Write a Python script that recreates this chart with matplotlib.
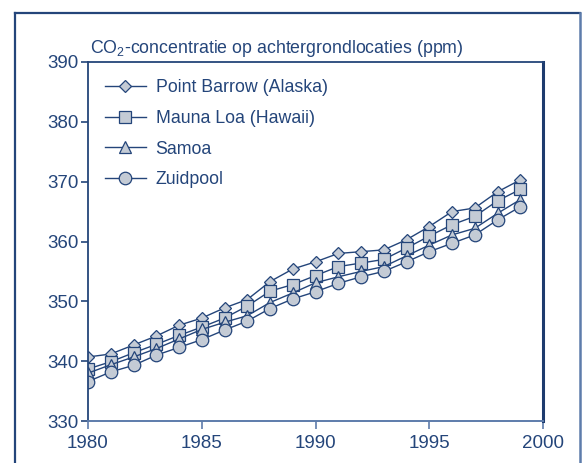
"""CO2 concentration at background stations, 1980-1999."""
import matplotlib
matplotlib.use("Agg")
import matplotlib.pyplot as plt
from matplotlib.lines import Line2D

years = list(range(1980, 2000))
point_barrow = [340.7, 341.2, 342.7, 344.2, 346.0, 347.2, 348.9, 350.3, 353.3, 355.4,
                356.6, 358.0, 358.3, 358.6, 360.3, 362.5, 365.0, 365.6, 368.3, 370.3]
mauna_loa = [338.7, 339.9, 341.4, 342.8, 344.3, 345.7, 347.2, 349.2, 351.7, 352.8,
             354.3, 355.8, 356.4, 357.0, 358.9, 360.9, 362.8, 364.2, 366.8, 368.7]
samoa = [338.0, 339.4, 340.7, 342.1, 343.7, 345.3, 346.5, 347.6, 349.8, 351.4,
         353.1, 354.1, 355.0, 355.8, 357.6, 359.4, 361.1, 362.2, 364.7, 367.0]
zuidpool = [336.6, 338.2, 339.3, 341.0, 342.3, 343.6, 345.2, 346.7, 348.8, 350.4,
            351.6, 353.0, 354.1, 355.0, 356.6, 358.3, 359.7, 361.1, 363.6, 365.8]
labels = ["Point Barrow (Alaska)", "Mauna Loa (Hawaii)", "Samoa", "Zuidpool"]
markers = ["D", "s", "^", "o"]
msizes = [6.0, 8.5, 9.0, 9.0]
xticks = [1980, 1985, 1990, 1995, 2000]
yticks = [330, 340, 350, 360, 370, 380, 390]

NAVY = "#24457a"
LIGHT = "#5d7cab"
FILL = "#c4cbd5"

plt.rcParams["font.family"] = ["Liberation Sans", "DejaVu Sans"]
plt.rcParams["mathtext.fontset"] = "custom"
plt.rcParams["mathtext.rm"] = "Liberation Sans"

fig = plt.figure(figsize=(5.87, 4.63), dpi=100)
ax = fig.add_axes([88 / 587, 1 - 421 / 463, 455 / 587, 359 / 463])

for vals, lab, m, ms in zip([point_barrow, mauna_loa, samoa, zuidpool], labels, markers, msizes):
    ax.plot(years, vals, color=NAVY, lw=1.0, marker=m, ms=ms,
            mfc=FILL, mec=NAVY, mew=0.9, label=lab)

ax.set_xlim(1980, 2000)
ax.set_ylim(330, 390)
ax.set_xticks(xticks)
ax.set_yticks(yticks)
ax.tick_params(colors=NAVY, labelsize=13.5, width=1.2)
ax.tick_params(axis="x", length=6, pad=4, color=LIGHT)
ax.tick_params(axis="y", length=5, pad=2)

for side in ["left", "top"]:
    ax.spines[side].set_color(NAVY)
    ax.spines[side].set_linewidth(1.3)
ax.spines["bottom"].set_color(LIGHT)
ax.spines["bottom"].set_linewidth(1.4)
ax.spines["right"].set_color("#1d3b6e")
ax.spines["right"].set_linewidth(2.2)

ax.text(90 / 587, 1 - 53 / 463, r"CO$\mathregular{_2}$-concentratie op achtergrondlocaties (ppm)",
        transform=fig.transFigure, color=NAVY, fontsize=12.8, ha="left", va="baseline")

leg = ax.legend(loc="upper left", frameon=False, fontsize=12.8, handlelength=2.3,
                handletextpad=0.55, labelspacing=0.78, borderaxespad=0.6, borderpad=0.35)
for t in leg.get_texts():
    t.set_color(NAVY)

# outer frame of the figure
fig.add_artist(Line2D([15 / 587, 15 / 587], [0, 1 - 13 / 463], transform=fig.transFigure,
                      color=NAVY, lw=1.6))
fig.add_artist(Line2D([15 / 587, 580 / 587], [1 - 13 / 463, 1 - 13 / 463],
                      transform=fig.transFigure, color=NAVY, lw=1.6))
fig.add_artist(Line2D([580 / 587, 580 / 587], [0, 1 - 13 / 463], transform=fig.transFigure,
                      color=LIGHT, lw=1.8))

fig.savefig("out.png", dpi=100)
